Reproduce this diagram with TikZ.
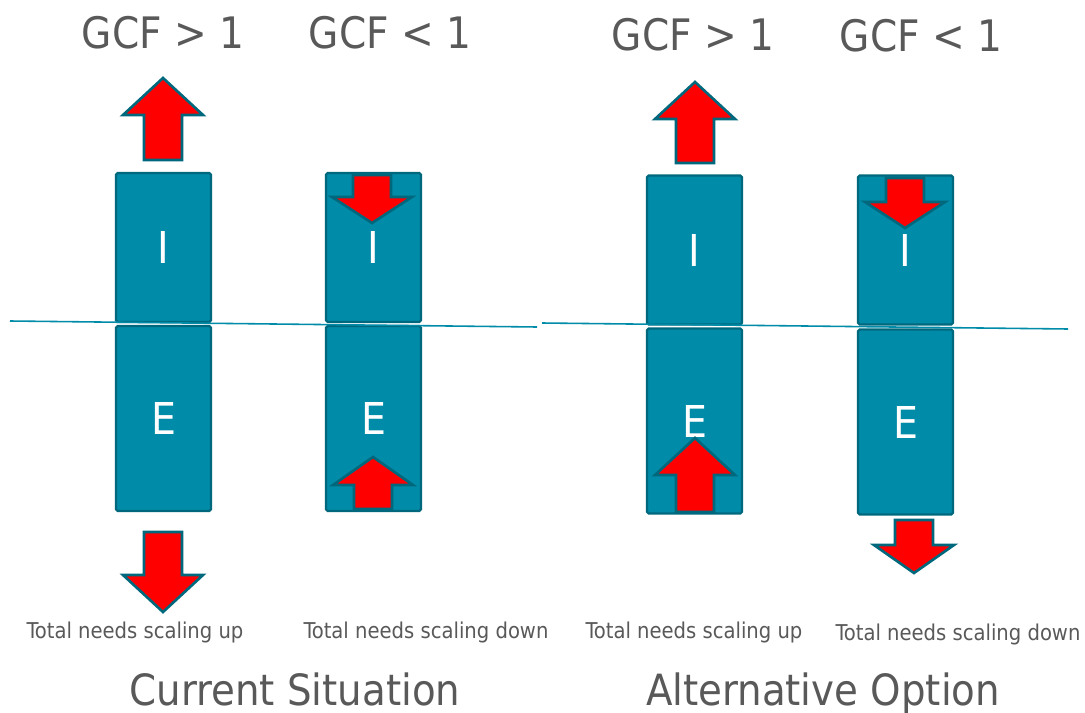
\documentclass[tikz,border=0pt]{standalone}
\usepackage{fontspec}
\setmainfont{DejaVu Sans Condensed}
\usepackage{tikz}
\definecolor{boxteal}{HTML}{008BA8}
\definecolor{edgeteal}{HTML}{00687D}
\definecolor{greytext}{HTML}{595959}
\tikzset{
	block/.style={rectangle,rounded corners=1pt,fill=boxteal,draw=edgeteal,line width=1.3pt,
		minimum width=1.9cm,text=white,font=\fontsize{25}{25}\selectfont},
	ibox/.style={block,minimum height=2.98cm},
	ebox/.style={block,minimum height=3.7cm},
	gcf/.style={text=greytext,font=\fontsize{24.7}{25}\selectfont},
	need/.style={text=greytext,font=\fontsize{12.4}{13}\selectfont},
	heading/.style={text=greytext,anchor=base,font=\fontsize{24.5}{25}\selectfont},
	split/.style={draw=boxteal,line width=0.9pt},
	redarrow/.style={fill=red,draw=edgeteal,line width=1.5pt,line join=miter}
}
% block arrow: centre x, tip y, head base y, tail y
\newcommand{\blockarr}[4]{
	\draw[redarrow] (#1,#2) -- (#1+40,#3) -- (#1+19,#3) -- (#1+19,#4)
		-- (#1-19,#4) -- (#1-19,#3) -- (#1-40,#3) -- cycle;
}

\begin{document}
\begin{tikzpicture}[x=0.02cm,y=-0.02cm]
	\useasboundingbox (0,0) rectangle (1085,713);

	% columns: I above, E below
	\node [ibox] (i1) at (163.5,247.5) {I};
	\node [ebox] (e1) at (163.5,418.5) {E};
	\node [ibox] (i2) at (373.5,247.5) {I};
	\node [ebox] (e2) at (373.5,418.5) {E};
	\node [ibox] (i3) at (694.5,250) {I};
	\node [ebox] (e3) at (694.5,421) {E};
	\node [ibox] (i4) at (905.5,250) {I};
	\node [ebox] (e4) at (905.5,422) {E};

	% dividing lines
	\draw [split] (10,321) -- (537,327);
	\draw [split] (542,323) -- (1068,329);

	% arrows
	\blockarr{163}{78}{115}{160}
	\blockarr{163}{612}{575}{532}
	\blockarr{372}{223}{197}{175}
	\blockarr{373}{457}{485}{509}
	\blockarr{695}{82}{119}{163}
	\blockarr{695}{438}{475}{512}
	\blockarr{905}{228}{202}{178}
	\blockarr{914}{573}{545}{520}

	% labels
	\node [gcf] (g1) at (163,33) {GCF > 1};
	\node [gcf] (g2) at (390,33) {GCF < 1};
	\node [gcf] (g3) at (693,35) {GCF > 1};
	\node [gcf] (g4) at (921,36) {GCF < 1};

	\node [need] (n1) at (135,632) {Total needs scaling up};
	\node [need] (n2) at (426,632) {Total needs scaling down};
	\node [need] (n3) at (694,632) {Total needs scaling up};
	\node [need] (n4) at (958,634) {Total needs scaling down};

	\node [heading] (h1) at (295,705) {Current Situation};
	\node [heading] (h2) at (823,705) {Alternative Option};
\end{tikzpicture}
\end{document}
